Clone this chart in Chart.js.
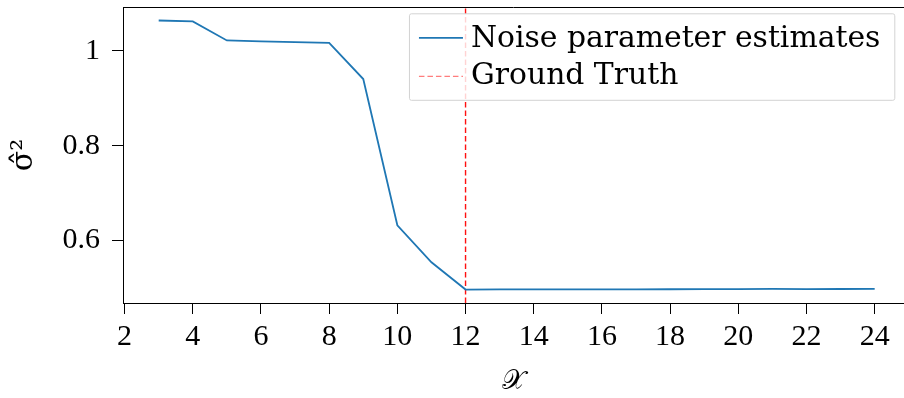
<!DOCTYPE html>
<html>
<head>
<meta charset="utf-8">
<script src="https://cdn.jsdelivr.net/npm/chart.js@4.4.0/dist/chart.umd.min.js"></script>
<style>
html, body { margin: 0; padding: 0; background: #fff; }
#wrap { width: 904px; height: 398px; }
</style>
</head>
<body>
<div id="wrap"><canvas id="c" width="904" height="398"></canvas></div>
<script>
// data
var xValues = [3, 4, 5, 6, 7, 8, 9, 10, 11, 12, 13, 14, 15, 16, 17, 18, 19, 20, 21, 22, 23, 24];
var estimates = [1.0638, 1.0617, 1.0217, 1.0196, 1.0183, 1.0168, 0.9404, 0.6322, 0.5543, 0.4968,
                 0.4970, 0.4971, 0.4972, 0.4973, 0.4974, 0.4975, 0.4976, 0.4978, 0.4982, 0.4978, 0.4980, 0.4981];
var truthX = 12;
var xTicks = [2, 4, 6, 8, 10, 12, 14, 16, 18, 20, 22, 24];
var yTicks = [0.6, 0.8, 1];
var xRange = [1.953, 24.86];
var yRange = [0.4685, 1.0922];
var seriesLabels = ["Noise parameter estimates", "Ground Truth"];

var TICKFONT = "'Liberation Serif', serif";
var LEGFONT = "'DejaVu Serif', serif";
var blue = "#1f77b4";
var red = "#ff1010";

var estPoints = xValues.map(function (x, i) { return { x: x, y: estimates[i] }; });
var truthPoints = [{ x: truthX, y: yRange[0] }, { x: truthX, y: yRange[1] }];

// top spine + boxed legend, like the matplotlib original
var framePlugin = {
  id: "frame",
  afterDatasetsDraw: function (chart) {
    var ctx = chart.ctx, a = chart.chartArea;
    ctx.save();
    ctx.strokeStyle = "#000";
    ctx.lineWidth = 1;
    ctx.beginPath();
    ctx.moveTo(a.left, a.top + 0.5);
    ctx.lineTo(a.right, a.top + 0.5);
    ctx.stroke();

    ctx.font = "29.8px " + LEGFONT;
    var tw = Math.max(ctx.measureText(seriesLabels[0]).width, ctx.measureText(seriesLabels[1]).width);
    var bw = 62 + tw + 14, bh = 86.5;
    var bx = a.right - 9.7 - bw, by = a.top + 6.3;
    ctx.fillStyle = "rgba(255,255,255,0.82)";
    ctx.strokeStyle = "#d3d3d3";
    ctx.lineWidth = 1;
    ctx.beginPath();
    ctx.roundRect(bx + 0.5, by + 0.5, bw, bh, 2);
    ctx.fill();
    ctx.stroke();

    ctx.lineWidth = 1.8;
    ctx.strokeStyle = blue;
    ctx.beginPath();
    ctx.moveTo(bx + 10, by + 24.5);
    ctx.lineTo(bx + 54, by + 24.5);
    ctx.stroke();

    ctx.lineWidth = 1.3;
    ctx.strokeStyle = "rgba(255,70,70,0.7)";
    ctx.setLineDash([5.5, 3]);
    ctx.beginPath();
    ctx.moveTo(bx + 10, by + 63);
    ctx.lineTo(bx + 54, by + 63);
    ctx.stroke();
    ctx.setLineDash([]);

    ctx.fillStyle = "#000";
    ctx.textBaseline = "alphabetic";
    ctx.fillText(seriesLabels[0], bx + 62, by + 33.4);
    ctx.fillText(seriesLabels[1], bx + 62, by + 70.7);
    ctx.restore();
  }
};

var chart = new Chart(document.getElementById("c").getContext("2d"), {
  type: "line",
  data: {
    datasets: [{
      label: seriesLabels[0],
      data: estPoints,
      borderColor: blue,
      borderWidth: 1.8,
      pointRadius: 0,
      tension: 0,
      fill: false
    }, {
      label: seriesLabels[1],
      data: truthPoints,
      borderColor: red,
      borderWidth: 1.4,
      borderDash: [5.5, 3],
      pointRadius: 0,
      fill: false
    }]
  },
  options: {
    responsive: false,
    devicePixelRatio: 1,
    animation: false,
    layout: { padding: { top: 7, right: 0, left: 0, bottom: 0 } },
    plugins: { legend: { display: false }, tooltip: { enabled: false } },
    scales: {
      x: {
        type: "linear",
        min: xRange[0],
        max: xRange[1],
        afterBuildTicks: function (s) { s.ticks = xTicks.map(function (v) { return { value: v }; }); },
        afterFit: function (s) { s.height = 95; s.paddingLeft = 0; s.paddingRight = 0; },
        grid: { drawOnChartArea: false, drawTicks: true, tickLength: 11, tickColor: "#000", tickWidth: 1 },
        border: { display: true, color: "#000", width: 1 },
        ticks: { color: "#000", font: { family: TICKFONT, size: 30 }, padding: 5, maxRotation: 0, autoSkip: false,
                 callback: function (v) { return String(v); } },
        title: { display: true, text: "𝒳", color: "#000", font: { family: LEGFONT, size: 27 }, padding: { top: 0, bottom: 0 } }
      },
      y: {
        min: yRange[0],
        max: yRange[1],
        afterBuildTicks: function (s) { s.ticks = yTicks.map(function (v) { return { value: v }; }); },
        afterFit: function (s) { s.width = 123; s.paddingTop = 0; s.paddingBottom = 0; },
        grid: { drawOnChartArea: false, drawTicks: true, tickLength: 11, tickColor: "#000", tickWidth: 1 },
        border: { display: true, color: "#000", width: 1 },
        ticks: { color: "#000", font: { family: TICKFONT, size: 30 }, padding: 12,
                 callback: function (v) { return String(v); } },
        title: { display: true, text: "σ̂²", color: "#000", font: { family: LEGFONT, size: 30 }, padding: { top: 6, bottom: 4 } }
      }
    }
  },
  plugins: [framePlugin]
});
</script>
</body>
</html>
